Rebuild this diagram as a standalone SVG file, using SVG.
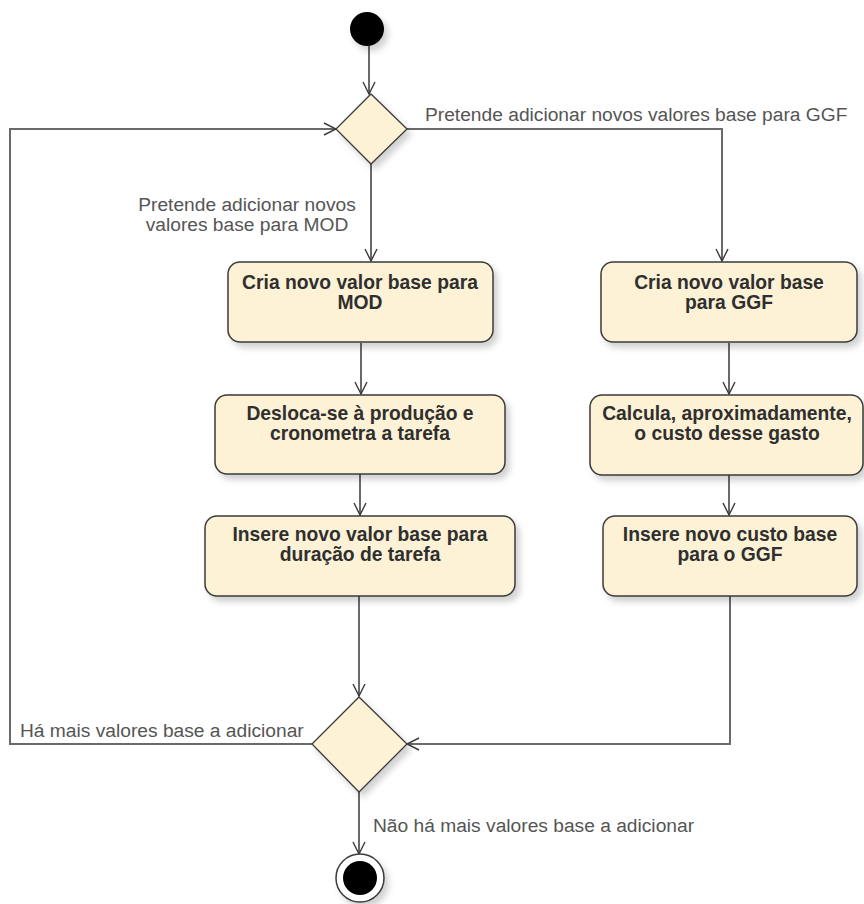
<svg xmlns="http://www.w3.org/2000/svg" width="864" height="904" viewBox="0 0 864 904">
  <style>
    .action { fill: #fdf2d5; stroke: #3a3a3a; stroke-width: 1.5; filter: url(#shadow); }
    .decision { fill: #fdf2d5; stroke: #3a3a3a; stroke-width: 1.3; filter: url(#shadow); }
    .atext { font-family: "Liberation Sans", Arial, sans-serif; font-weight: bold; font-size: 19.3px; fill: #2f2f2f; text-anchor: middle; }
    .guard { font-family: "Liberation Sans", Arial, sans-serif; font-size: 19.2px; fill: #555555; }
    .flow { fill: none; stroke: #6a6a6a; stroke-width: 2; marker-end: url(#arrow); }
  </style>
  <defs>
    <filter id="shadow" x="-20%" y="-20%" width="150%" height="150%">
      <feDropShadow dx="4" dy="5" stdDeviation="3" flood-color="#000000" flood-opacity="0.18"/>
    </filter>
    <marker id="arrow" viewBox="0 0 14 14" refX="13" refY="7" markerWidth="14" markerHeight="14" markerUnits="userSpaceOnUse" orient="auto">
      <path d="M1,1 L13,7 L1,13" fill="none" stroke="#3a3a3a" stroke-width="1.4"/>
    </marker>
  </defs>

  <rect width="864" height="904" fill="#ffffff"/>

  <!-- connectors -->
  <g id="connectors">
    <path class="flow" d="M369,46 L369,94"/>
    <path class="flow" d="M371,163 L371,261"/>
    <path class="flow" d="M407,129 L722,129 L722,261"/>
    <path class="flow" d="M361,343 L361,394"/>
    <path class="flow" d="M360,474 L360,515"/>
    <path class="flow" d="M729,343 L729,394"/>
    <path class="flow" d="M729,475 L729,515"/>
    <path class="flow" d="M359,596 L359,696"/>
    <path class="flow" d="M730,596 L730,744 L407,744"/>
    <path class="flow" d="M312,744 L10,744 L10,129 L336,129"/>
    <path class="flow" d="M359,792 L359,854"/>
    <text class="guard" x="425" y="121">Pretende adicionar novos valores base para GGF</text>
    <text class="guard" x="247" y="211" text-anchor="middle">Pretende adicionar novos</text>
    <text class="guard" x="247" y="231" text-anchor="middle">valores base para MOD</text>
    <text class="guard" x="20" y="737">Há mais valores base a adicionar</text>
    <text class="guard" x="373" y="832">Não há mais valores base a adicionar</text>
  </g>

  <!-- initial node -->
  <g id="start">
    <circle cx="367" cy="29" r="17" fill="#000000" filter="url(#shadow)"/>
  </g>

  <!-- top decision -->
  <g id="decision-top">
    <polygon class="decision" points="371,94 407,129 371,164 336,129"/>
  </g>

  <g id="mod-create">
    <rect class="action" x="228" y="262" width="265" height="80" rx="12"/>
    <text class="atext" x="360" y="289">Cria novo valor base para</text>
    <text class="atext" x="360" y="309">MOD</text>
  </g>

  <g id="mod-time">
    <rect class="action" x="215" y="395" width="290" height="79" rx="12"/>
    <text class="atext" x="360" y="420">Desloca-se à produção e</text>
    <text class="atext" x="360" y="440">cronometra a tarefa</text>
  </g>

  <g id="mod-insert">
    <rect class="action" x="205" y="516" width="310" height="80" rx="12"/>
    <text class="atext" x="360" y="541">Insere novo valor base para</text>
    <text class="atext" x="360" y="561">duração de tarefa</text>
  </g>

  <g id="ggf-create">
    <rect class="action" x="601" y="262" width="256" height="80" rx="12"/>
    <text class="atext" x="729" y="289">Cria novo valor base</text>
    <text class="atext" x="729" y="309">para GGF</text>
  </g>

  <g id="ggf-calc">
    <rect class="action" x="590" y="395" width="273" height="80" rx="12"/>
    <text class="atext" x="727" y="420">Calcula, aproximadamente,</text>
    <text class="atext" x="727" y="440">o custo desse gasto</text>
  </g>

  <g id="ggf-insert">
    <rect class="action" x="603" y="516" width="254" height="80" rx="12"/>
    <text class="atext" x="730" y="541">Insere novo custo base</text>
    <text class="atext" x="730" y="561">para o GGF</text>
  </g>

  <!-- merge / loop decision -->
  <g id="decision-bottom">
    <polygon class="decision" points="359,697 407,744 359,792 312,744"/>
  </g>

  <!-- final node -->
  <g id="end">
    <circle cx="360" cy="878" r="24" fill="#ffffff" stroke="#3a3a3a" stroke-width="1.5" filter="url(#shadow)"/>
    <circle cx="360" cy="878" r="17" fill="#000000"/>
  </g>
</svg>
